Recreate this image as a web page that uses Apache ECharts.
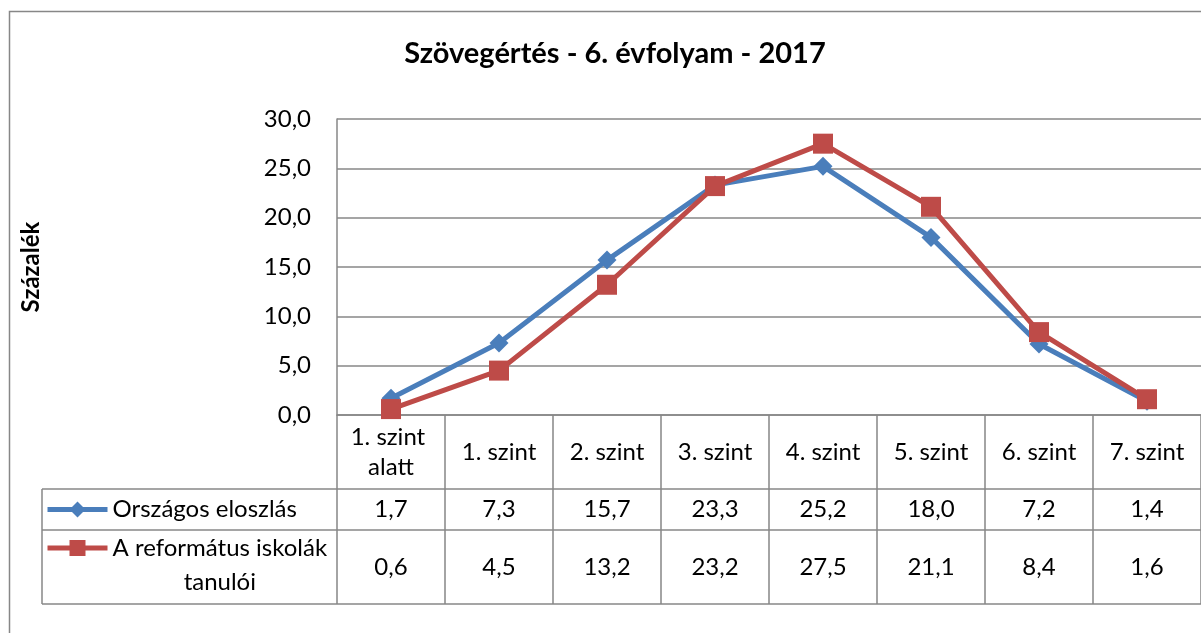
<!DOCTYPE html>
<html>
<head>
<meta charset="utf-8">
<script src="https://cdn.jsdelivr.net/npm/echarts@6/dist/echarts.min.js"></script>
<style>
  html, body { margin: 0; padding: 0; background: #fff; }
  #chart { width: 1201px; height: 633px; }
</style>
</head>
<body>
<div id="chart"></div>
<script>
const kategoriak = ['1. szint alatt', '1. szint', '2. szint', '3. szint', '4. szint', '5. szint', '6. szint', '7. szint'];
const orszagos = [1.7, 7.3, 15.7, 23.3, 25.2, 18.0, 7.2, 1.4];
const reformatus = [0.6, 4.5, 13.2, 23.2, 27.5, 21.1, 8.4, 1.6];
const sorok = ['Országos eloszlás', 'A református iskolák tanulói'];

const BETU = 'Lato, "Noto Sans", sans-serif';
const SZURKE = '#878787';
const KEK = '#4a7ebb';
const PIROS = '#be4b48';

// magyar tizedesvesszo
function vesszo(v) {
    return Number(v).toFixed(1).replace('.', ',');
}

let myChart = echarts.init(document.getElementById('chart'));

let option = {
    animation: false,
    title: {
        text: 'Szövegértés - 6. évfolyam - 2017',
        left: 610,
        top: 34,
        textAlign: 'center',
        textStyle: { fontFamily: BETU, fontSize: 29, fontWeight: 'bold', color: '#000' }
    },
    legend: [
        {
            data: [sorok[0]],
            left: 45, top: 492.5, padding: 0,
            itemWidth: 60, itemHeight: 20,
            lineStyle: { width: 5 },
            textStyle: { fontFamily: BETU, fontSize: 24, color: '#000', lineHeight: 34 }
        },
        {
            // ures elso sor, hogy a jel az elso szovegsorhoz igazodjon
            data: [sorok[1]],
            left: 45, top: 497, padding: 0,
            itemWidth: 60, itemHeight: 20,
            lineStyle: { width: 5 },
            formatter: function (name) {
                let i = name.lastIndexOf(' ');
                return '{u| }\n{a|' + name.slice(0, i) + '}\n{b|' + name.slice(i + 1) + '}';
            },
            textStyle: {
                fontFamily: BETU, fontSize: 24, color: '#000', lineHeight: 34,
                rich: {
                    u: { fontFamily: BETU, fontSize: 24, lineHeight: 34 },
                    a: { fontFamily: BETU, fontSize: 24, lineHeight: 34 },
                    b: { fontFamily: BETU, fontSize: 24, lineHeight: 34, align: 'center' }
                }
            }
        }
    ],
    grid: { left: 337, top: 119, right: -13, bottom: 218, containLabel: false },
    xAxis: [
        {
            type: 'category',
            data: kategoriak,
            position: 'bottom',
            axisLine: { show: true, lineStyle: { color: SZURKE, width: 1.5 } },
            axisTick: { show: true, interval: 0, length: 189, lineStyle: { color: SZURKE, width: 1.5 } },
            axisLabel: {
                interval: 0, margin: 37, verticalAlign: 'middle',
                fontFamily: BETU, fontSize: 24, color: '#000', lineHeight: 30,
                width: 95, overflow: 'break', align: 'center'
            }
        },
        {
            type: 'category',
            data: orszagos.map(vesszo),
            position: 'bottom',
            offset: 74,
            axisLine: { show: false },
            axisTick: { show: false },
            axisLabel: { interval: 0, margin: 20.5, verticalAlign: 'middle', fontFamily: BETU, fontSize: 24, color: '#000' }
        },
        {
            type: 'category',
            data: reformatus.map(vesszo),
            position: 'bottom',
            offset: 115,
            axisLine: { show: false },
            axisTick: { show: false },
            axisLabel: { interval: 0, margin: 37, verticalAlign: 'middle', fontFamily: BETU, fontSize: 24, color: '#000' }
        }
    ],
    yAxis: {
        type: 'value',
        min: 0,
        max: 30,
        interval: 5,
        name: 'Százalék',
        nameLocation: 'middle',
        nameGap: 294,
        nameRotate: 90,
        nameTextStyle: { fontFamily: BETU, fontSize: 24, fontWeight: 'bold', color: '#000' },
        axisLine: { show: true, lineStyle: { color: SZURKE, width: 1.5 } },
        axisTick: { show: false },
        splitLine: { show: true, lineStyle: { color: SZURKE, width: 1.5 } },
        axisLabel: {
            margin: 26,
            fontFamily: BETU, fontSize: 24, color: '#000',
            formatter: vesszo
        }
    },
    series: [
        {
            name: sorok[0],
            type: 'line',
            data: orszagos,
            symbol: 'diamond',
            symbolSize: 19,
            z: 2,
            lineStyle: { color: KEK, width: 5 },
            itemStyle: { color: KEK }
        },
        {
            name: sorok[1],
            type: 'line',
            data: reformatus,
            symbol: 'rect',
            symbolSize: 20,
            z: 3,
            lineStyle: { color: PIROS, width: 5 },
            itemStyle: { color: PIROS }
        }
    ],
    graphic: [
        // kulso keret
        { type: 'rect', shape: { x: 9.5, y: 11.5, width: 1300, height: 700 }, style: { fill: null, stroke: SZURKE, lineWidth: 1.5 }, silent: true },
        // tabla vonalai
        { type: 'line', shape: { x1: 42, y1: 489, x2: 1210, y2: 489 }, style: { stroke: SZURKE, lineWidth: 1.5 }, silent: true },
        { type: 'line', shape: { x1: 42, y1: 530, x2: 1210, y2: 530 }, style: { stroke: SZURKE, lineWidth: 1.5 }, silent: true },
        { type: 'line', shape: { x1: 42, y1: 604, x2: 1210, y2: 604 }, style: { stroke: SZURKE, lineWidth: 1.5 }, silent: true },
        { type: 'line', shape: { x1: 42, y1: 489, x2: 42, y2: 604 }, style: { stroke: SZURKE, lineWidth: 1.5 }, silent: true }
    ]
};

myChart.setOption(option);
</script>
</body>
</html>
